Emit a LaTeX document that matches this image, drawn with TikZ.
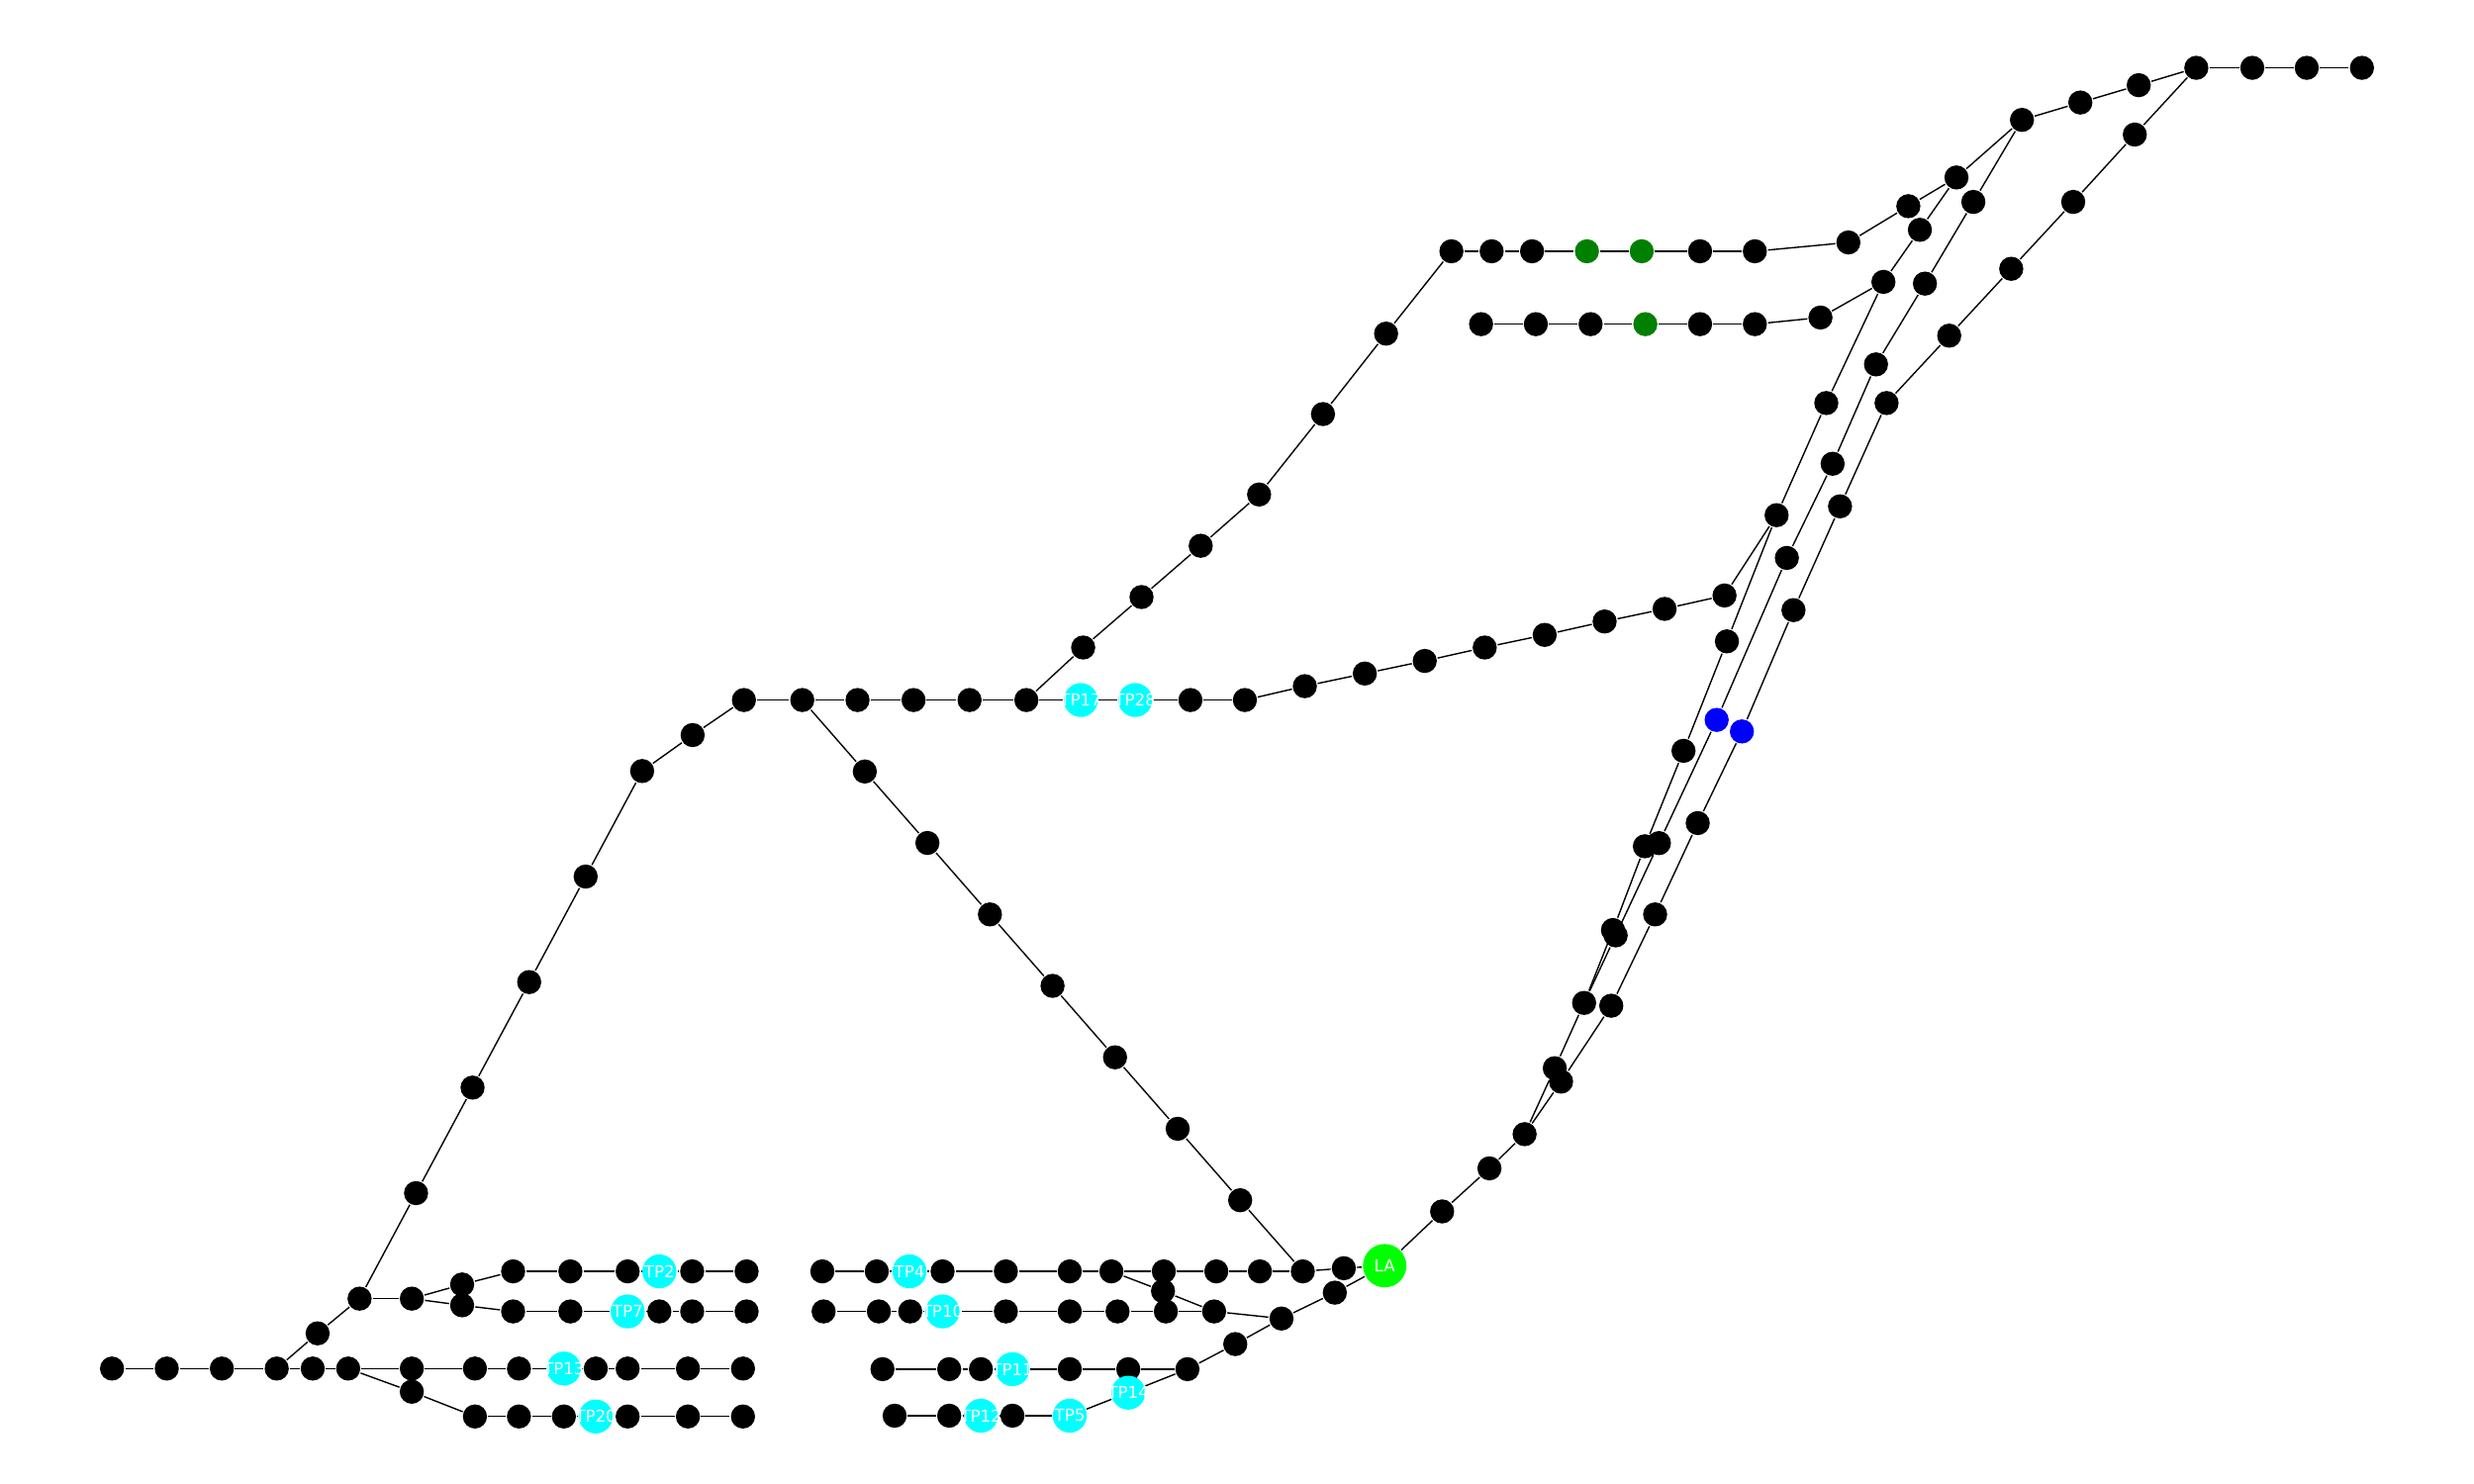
\documentclass[tikz,border=0pt]{standalone}
\usepackage{fontspec}
\newfontfamily\lblfont{DejaVu Sans}
\definecolor{cyanc}{HTML}{00FFFF}
\definecolor{limec}{HTML}{00FF00}
\definecolor{greenc}{HTML}{008000}
\definecolor{bluec}{HTML}{0000FF}
\pgfdeclarelayer{bg}
\pgfsetlayers{bg,main}
\tikzset{
  bn/.style={circle,fill=black,inner sep=0pt,minimum size=0.153cm},
  gn/.style={circle,fill=greenc,inner sep=0pt,minimum size=0.153cm},
  bln/.style={circle,fill=bluec,inner sep=0pt,minimum size=0.153cm},
  tp/.style={circle,fill=cyanc,inner sep=0pt,minimum size=0.215cm},
  lan/.style={circle,fill=limec,inner sep=0pt,minimum size=0.275cm},
  lbltext/.style={inner sep=0pt,text=white,font=\lblfont\fontsize{2.97pt}{3.5pt}\selectfont},
  edge/.style={draw=black,line width=0.25pt}
}
\begin{document}
\begin{tikzpicture}[x=0.01cm,y=-0.01cm]
\useasboundingbox (0,0) rectangle (1568,940.8);
% black nodes
\foreach \n/\x/\y in {
 L1/71/867.6, L2/105.7/867.6, L3/140.6/867.6, L4/175.4/867.6, L5/198.2/867.6, L6/220.7/867.6,
 K1/201.3/845.3, K2/227.9/823.3, K3/261/823.3, Ba/292.9/814.3, Bb/292.9/827.5,
 B11/325.2/806, B12/361.5/806, B13/397.8/806, B15/438.7/806, B16/473.2/806,
 B21/325.2/831.4, B22/361.5/831.4, B24/417.9/831.4, B25/438.7/831.4, B26/473.2/831.4,
 C1/261/867.6, C2/301/867.6, C3/328.9/867.6, C5/377.6/867.6, C6/397.8/867.6, C7/436/867.6, C8/470.9/867.6,
 Cd/261/882.3, dd1/301/898, dd2/328.9/898, dd3/357.4/898, dd5/397.8/898, dd6/436/898, dd7/470.9/898,
 E1/521.2/806, E2/555.7/806, E4/597.4/806, E5/637.5/806, E6/678/806, E7/704.4/806, E8/737.6/806,
 E9/770.9/806, E10/798.5/806, E11/825.7/806, E12/851.7/804,
 F1/522/831.4, F2/557/831.4, F3/576.9/831.4, F5/637.5/831.4, F6/678/831.4, F7/708.3/831.4, F8/738.9/831.4, F9/769.5/831.4,
 M/737.1/818.5, N1/812.2/835.9, N2/846/819.5, N3/782.9/852.1,
 G1/559.3/868, G2/601.6/868, G3/621.7/868, G5/678/868, G6/715.1/868, G7/752.6/868,
 H1/567/897.5, H2/601.6/897.5, H4/641.7/897.5,
 P1/914/768, P2/944/740.7, P3/966.3/719,
 D1/263.7/756.4, D2/299.5/689.5, D3/335.4/622.6, D4/371.2/555.7, D5/407/488.8, D6/439/466, D7/471.5/443.8,
 R1/508.5/443.8, R2/543.5/443.8, R3/579/443.8, R4/614.5/443.8, R5/650.5/443.8, R8/754.5/443.8, R9/789/443.8,
 S1/827/435, S2/865/427, S3/903/419, S4/941/410.5, S5/979/402.5, S6/1017/394, S7/1055/386, S8/1093/377.5,
 Q1/548.1/489.1, Q2/587.8/534.4, Q3/627.4/579.7, Q4/667.1/625, Q5/706.7/670.3, Q6/746.4/715.6, Q7/786/760.9,
 U1/686.5/410.5, U2/723.5/378.5, U3/761/346, U4/798/313.5, U5/838.5/262.5, U6/878.5/211.5,
 T1/919.9/159.3, T2/945.4/159.3, T3/971/159.3, T6/1077.5/159.3, T7/1112.2/159.3, V1/1171.5/153.7, V2/1209.5/130.7,
 W1/938.7/205.5, W2/973.4/205.5, W3/1008.1/205.5, W5/1077.5/205.5, W6/1112.2/205.5, W7/1153.8/201.3,
 Y0/1281.5/76, O1/1318.5/65, O2/1355.5/54, Z0/1392/43, O3/1427.5/43, O4/1462/43, O5/1497/43,
 X1/1240/112.5, X2/1216.8/145.7, X3/1193.7/178.7, X4/1157.5/255.5, X5/1126/326.6, X6/1094.5/406.6,
 X7/1067/476, X8/1042.5/536.5, X9/1022.3/589.6, J1/1004/635.8, J2/985.4/677.2,
 Y1/1250.7/128, Y2/1220/179.8, Y3/1189/231, Y4/1161.5/294, Y5/1132.5/353.7, Y7/1051.4/534.5, Y8/1024/593,
 Z1/1353/85.3, Z2/1314/128, Z3/1274.7/170.4, Z4/1235.4/212.8, Z5/1195.7/255.5, Z6/1166.2/321, Z7/1136.7/386.8,
 Z9/1076/521.8, Z10/1049/579.7, Z11/1021.2/637.6, Z12/989.4/685.7}
 \node[bn] (\n) at (\x,\y) {};
% green and blue nodes
\node[gn] (Tg1) at (1005.8,159.3) {};
\node[gn] (Tg2) at (1040.5,159.3) {};
\node[gn] (Wg) at (1042.8,205.5) {};
\node[bln] (Yb) at (1088,456.4) {};
\node[bln] (Zb) at (1104,463.7) {};
% labelled nodes (circles)
\foreach \n/\x/\y in {
 TP2/417.9/806, TP7/397.8/831.4, TP13/357.4/867.6, TP20/377.6/898,
 TP4/576.4/806, TP10/597.4/831.4, TP11/641.7/868, TP14/715.1/882.9,
 TP12/621.7/897.5, TP5/678/897.5, TP17/685/443.8, TP28/719.5/443.8}
 \node[tp] (\n) at (\x,\y) {};
\node[lan] (LA) at (877.6,802.4) {};
% labels, drawn on top of all circles
\foreach \n in {TP2,TP7,TP13,TP20,TP4,TP10,TP11,TP14,TP12,TP5,TP17,TP28,LA}
 \node[lbltext] (\n-t) at (\n) {\n};
% edges
\begin{pgfonlayer}{bg}
\foreach \a/\b in {
 L1/L2, L2/L3, L3/L4, L4/L5, L5/L6, L4/K1, K1/K2, K2/K3, K2/D1,
 K3/Ba, K3/Bb, Ba/B11, B11/B12, B12/B13, B13/TP2, TP2/B15, B15/B16,
 Bb/B21, B21/B22, B22/TP7, TP7/B24, B24/B25, B25/B26,
 L6/C1, C1/C2, C2/C3, C3/TP13, TP13/C5, C5/C6, C6/C7, C7/C8,
 L6/Cd, Cd/dd1, dd1/dd2, dd2/dd3, dd3/TP20, TP20/dd5, dd5/dd6, dd6/dd7,
 E1/E2, E2/TP4, TP4/E4, E4/E5, E5/E6, E6/E7, E7/E8, E8/E9, E9/E10, E10/E11, E11/E12, E12/LA,
 E7/M, M/F9,
 F1/F2, F2/F3, F3/TP10, TP10/F5, F5/F6, F6/F7, F7/F8, F8/F9, F9/N1, N1/N2, N2/LA, N1/N3, N3/G7,
 G1/G2, G2/G3, G3/TP11, TP11/G5, G5/G6, G6/G7, G7/TP14, TP14/TP5,
 H1/H2, H2/TP12, TP12/H4, H4/TP5,
 LA/P1, P1/P2, P2/P3,
 D1/D2, D2/D3, D3/D4, D4/D5, D5/D6, D6/D7, D7/R1,
 R1/R2, R2/R3, R3/R4, R4/R5, R5/TP17, TP17/TP28, TP28/R8, R8/R9, R9/S1,
 S1/S2, S2/S3, S3/S4, S4/S5, S5/S6, S6/S7, S7/S8, S8/X5,
 R1/Q1, Q1/Q2, Q2/Q3, Q3/Q4, Q4/Q5, Q5/Q6, Q6/Q7, Q7/E11,
 R5/U1, U1/U2, U2/U3, U3/U4, U4/U5, U5/U6, U6/T1,
 T1/T2, T2/T3, T3/Tg1, Tg1/Tg2, Tg2/T6, T6/T7, T7/V1, V1/V2, V2/X1,
 W1/W2, W2/W3, W3/Wg, Wg/W5, W5/W6, W6/W7, W7/X3,
 Y0/O1, O1/O2, O2/Z0, Z0/O3, O3/O4, O4/O5,
 Y0/X1, X1/X2, X2/X3, X3/X4, X4/X5, X5/X6, X6/X7, X7/X8, X8/X9, X9/J1, J1/J2, J2/P3,
 Y0/Y1, Y1/Y2, Y2/Y3, Y3/Y4, Y4/Y5, Y5/Yb, Yb/Y7, Y7/Y8, Y8/J1,
 Z0/Z1, Z1/Z2, Z2/Z3, Z3/Z4, Z4/Z5, Z5/Z6, Z6/Z7, Z7/Zb, Zb/Z9, Z9/Z10, Z10/Z11, Z11/Z12, Z12/P3}
 \draw[edge] (\a) -- (\b);
\end{pgfonlayer}
\end{tikzpicture}
\end{document}
